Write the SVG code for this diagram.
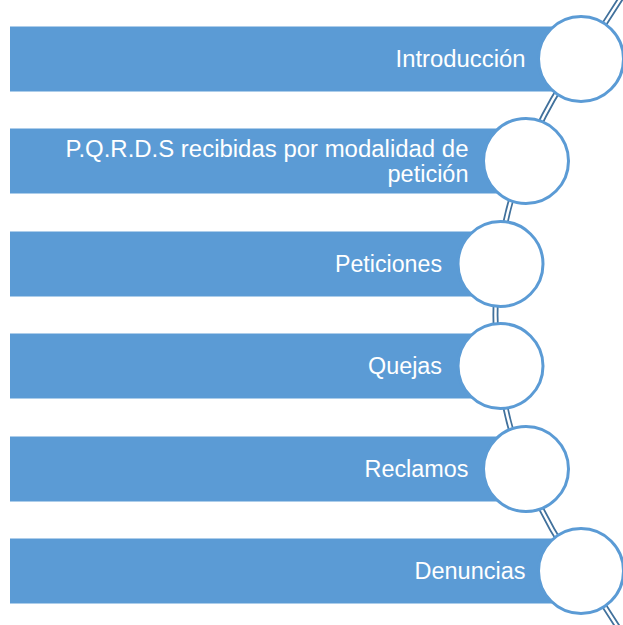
<svg xmlns="http://www.w3.org/2000/svg" width="623" height="625" viewBox="0 0 623 625">
<style>
.bar{fill:#5b9bd5;stroke:#ffffff;stroke-width:1}
.dot{fill:#ffffff;stroke:#5b9bd5;stroke-width:3}
.lbl{font-family:"Liberation Sans",Arial,sans-serif;font-size:23px;fill:#ffffff;text-anchor:end}
.arcO{fill:none;stroke:#41719c;stroke-width:6}
.arcI{fill:none;stroke:#ffffff;stroke-width:2.4}
</style>
<rect width="623" height="625" fill="#ffffff"/>
<g id="connectors">
<path id="arc-outer" class="arcO" d="M 621,-2 L 594,40 A 433 433 0 0 0 594,590 L 621,632"/>
<path id="arc-inner" class="arcI" d="M 621,-2 L 594,40 A 433 433 0 0 0 594,590 L 621,632"/>
</g>
<g id="node1">
<rect class="bar" x="9.5" y="26" width="571.5" height="66"/>
<circle class="dot" cx="581" cy="59" r="42.5"/>
<text class="lbl" x="525.5" y="66.7" textLength="130" lengthAdjust="spacingAndGlyphs">Introducción</text>
</g>
<g id="node2">
<rect class="bar" x="9.5" y="128" width="516.5" height="66"/>
<circle class="dot" cx="526" cy="161" r="42.5"/>
<text class="lbl" x="468.5" y="156.7" textLength="403" lengthAdjust="spacingAndGlyphs">P.Q.R.D.S recibidas por modalidad de</text>
<text class="lbl" x="468.5" y="181.7" textLength="81" lengthAdjust="spacingAndGlyphs">petición</text>
</g>
<g id="node3">
<rect class="bar" x="9.5" y="231" width="490.5" height="66"/>
<circle class="dot" cx="500.5" cy="264" r="42.5"/>
<text class="lbl" x="442" y="271.7" textLength="107" lengthAdjust="spacingAndGlyphs">Peticiones</text>
</g>
<g id="node4">
<rect class="bar" x="9.5" y="333" width="490.5" height="66"/>
<circle class="dot" cx="500.5" cy="366" r="42.5"/>
<text class="lbl" x="442" y="373.7" textLength="74" lengthAdjust="spacingAndGlyphs">Quejas</text>
</g>
<g id="node5">
<rect class="bar" x="9.5" y="436" width="516.5" height="66"/>
<circle class="dot" cx="526" cy="469" r="42.5"/>
<text class="lbl" x="468.5" y="476.7" textLength="104" lengthAdjust="spacingAndGlyphs">Reclamos</text>
</g>
<g id="node6">
<rect class="bar" x="9.5" y="538" width="571.5" height="66"/>
<circle class="dot" cx="581" cy="571" r="42.5"/>
<text class="lbl" x="525.5" y="578.7" textLength="111" lengthAdjust="spacingAndGlyphs">Denuncias</text>
</g>
</svg>
